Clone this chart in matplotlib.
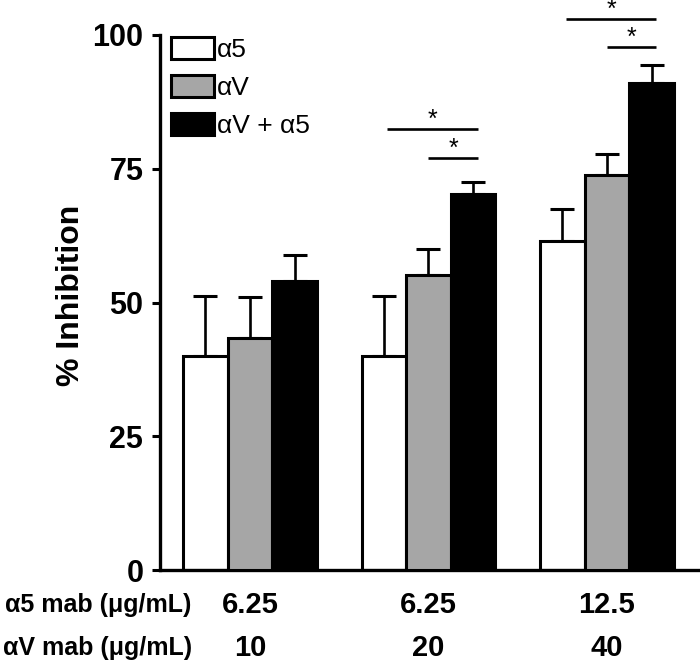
import matplotlib
matplotlib.use("Agg")
import matplotlib.pyplot as plt
import matplotlib.transforms as mtransforms
import numpy as np

plt.rcParams['font.family'] = ['Liberation Sans', 'DejaVu Sans']

# ---- data ----
a5_conc = ['6.25', '6.25', '12.5']
av_conc = ['10', '20', '40']
row_labels = ['α5 mab (μg/mL)', 'αV mab (μg/mL)']
series_labels = ['α5', 'αV', 'αV + α5']
means_a5 = [40.0, 40.0, 61.5]
means_av = [43.4, 55.2, 73.8]
means_both = [54.0, 70.2, 91.1]
err_a5 = [11.3, 11.3, 5.9]
err_av = [7.6, 4.8, 4.0]
err_both = [4.8, 2.4, 3.2]
yticks = [0, 25, 50, 75, 100]
# significance brackets: group index, first series index, bar level
sig_group = [1, 1, 2, 2]
sig_from = [0, 1, 0, 1]
sig_level = [82.4, 77.1, 102.9, 97.7]

means = [means_a5, means_av, means_both]
errs = [err_a5, err_av, err_both]
colors = ['white', '#a6a6a6', 'black']

fig = plt.figure(figsize=(7.0, 6.61), dpi=100)
ax = fig.add_axes([160/700, 1-570/661, 540/700, 535/661])

x = np.arange(len(a5_conc))
w = 0.25
offsets = [-w, 0, w]
handles = []
for i in range(3):
    b = ax.bar(x + offsets[i], means[i], width=w, color=colors[i],
               edgecolor='black', linewidth=2.2, zorder=2 + i,
               label=series_labels[i])
    handles.append(b)
    ax.errorbar(x + offsets[i], means[i],
                yerr=[np.zeros(len(x)), errs[i]], fmt='none',
                ecolor='black', elinewidth=1.9, capsize=8.5, capthick=2.2,
                zorder=1)

# significance brackets
for g, f, lvl in zip(sig_group, sig_from, sig_level):
    x0 = g + offsets[f] + (0.02 if f == 0 else 0.0)
    x1 = g + offsets[2] + 0.025
    ax.plot([x0, x1], [lvl, lvl], color='black', lw=1.9, clip_on=False,
            solid_capstyle='butt')
    ax.text((x0 + x1) / 2, lvl + 0.4, '*', ha='center', va='baseline',
            fontsize=18, clip_on=False)

ax.set_xlim(-0.504, 2.521)
ax.set_ylim(0, 100)
ax.set_yticks(yticks)
ax.set_yticklabels([str(t) for t in yticks], fontsize=22, fontweight='bold')
ax.set_xticks([])
ax.tick_params(axis='y', direction='out', length=6, width=2.2, pad=6)
for s in ['top', 'right']:
    ax.spines[s].set_visible(False)
for s in ['left', 'bottom']:
    ax.spines[s].set_linewidth(2.4)

ax.set_ylabel('% Inhibition', fontsize=23, fontweight='bold')
ax.yaxis.set_label_coords(-0.1375, 0.514)

# category labels under the axis
trans = mtransforms.blended_transform_factory(ax.transData, ax.transAxes)
row_y = [-0.0654, -0.1458]
for xi, a, v in zip(x, a5_conc, av_conc):
    ax.text(xi, row_y[0], a, transform=trans, ha='center', va='center',
            fontsize=21, fontweight='bold')
    ax.text(xi, row_y[1], v, transform=trans, ha='center', va='center',
            fontsize=21, fontweight='bold')
for lab, yy in zip(row_labels, row_y):
    ax.text(0.059, yy, lab, transform=ax.transAxes, ha='right', va='center',
            fontsize=18, fontweight='bold')

leg = ax.legend(handles=handles, labels=series_labels, loc='upper left',
                bbox_to_anchor=(0.020, 0.997), frameon=False, fontsize=19,
                handlelength=1.63, handleheight=0.91, handletextpad=0.12,
                labelspacing=0.5, borderpad=0, borderaxespad=0)

fig.savefig('out.png', dpi=100)
